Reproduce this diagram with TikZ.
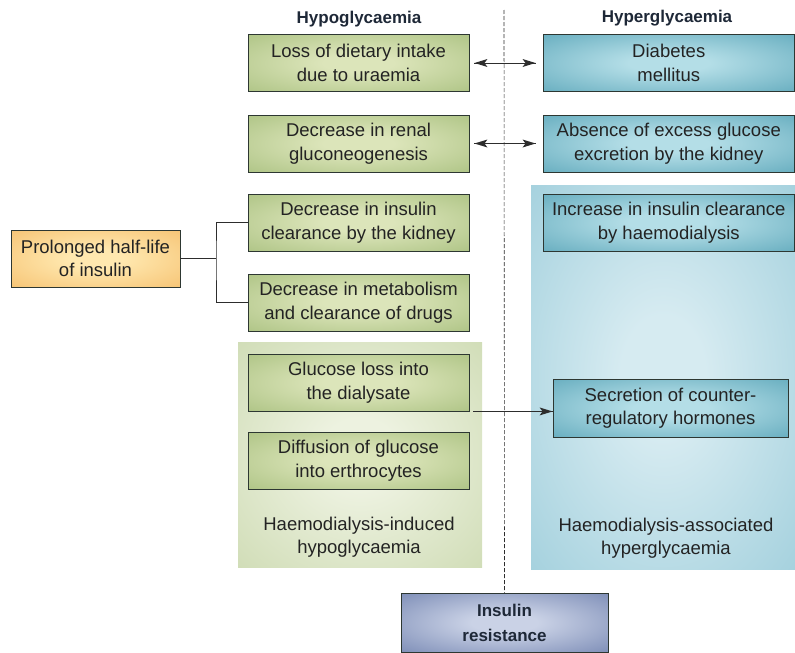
\documentclass[tikz,border=0pt]{standalone}
\usepackage{fontspec}
\setmainfont{Liberation Sans}
\usepackage{tikz}

\definecolor{txt}{RGB}{35,35,35}
\definecolor{head}{RGB}{30,40,55}
\definecolor{boxline}{RGB}{45,55,50}
\definecolor{linegray}{RGB}{45,45,45}
\definecolor{gbin}{RGB}{220,229,186}
\definecolor{gbout}{RGB}{152,180,108}
\definecolor{bbin}{RGB}{180,222,231}
\definecolor{bbout}{RGB}{66,150,172}
\definecolor{obin}{RGB}{255,232,175}
\definecolor{obout}{RGB}{242,178,88}
\definecolor{gpin}{RGB}{237,242,224}
\definecolor{gpout}{RGB}{194,210,162}
\definecolor{bpin}{RGB}{214,235,241}
\definecolor{bpout}{RGB}{140,196,212}
\definecolor{ibin}{RGB}{202,210,230}
\definecolor{ibout}{RGB}{88,108,160}

\colorlet{glowin}{white}
\colorlet{glowout}{gray}
\pgfdeclareradialshading[glowin,glowout]{softglow}{\pgfpointorigin}{color(0bp)=(glowin); color(8bp)=(glowin); color(50bp)=(glowout)}

\tikzset{
  glow/.style 2 args={/utils/exec={\colorlet{glowin}{#1}\colorlet{glowout}{#2}}, shade, shading=softglow},
  boxtext/.style={font=\fontsize{18.5}{23.5}\selectfont, text=txt, align=center},
  greenbox/.style={boxtext, draw=boxline, line width=0.9pt, minimum width=221pt, minimum height=57pt, glow={gbin}{gbout}},
  bluebox/.style={boxtext, draw=boxline, line width=0.9pt, minimum width=251.5pt, minimum height=57pt, glow={bbin}{bbout}},
  header/.style={font=\fontsize{17}{20}\selectfont\bfseries, text=head},
  arrowline/.style={draw=linegray, line width=0.9pt}
}

\begin{document}
\begin{tikzpicture}[x=1pt,y=1pt]
        \tikzstyle{every node}+=[inner sep=0pt]
        \useasboundingbox (0,0) rectangle (795,-653);
        % background panels
        \shade [glow={gpin}{gpout}] (238,-342) rectangle (482,-567);
        \shade [glow={bpin}{bpout}] (531,-185) rectangle (795,-569);
        \node [boxtext] (hypotxt) at (359,-537) {Haemodialysis-induced\\hypoglycaemia};
        \node [boxtext] (hypertxt) at (666,-538) {Haemodialysis-associated\\hyperglycaemia};
        % column headers
        \node [header] (hypo) at (359,-19) {Hypoglycaemia};
        \node [header] (hyper) at (667,-18) {Hyperglycaemia};
        % hypoglycaemia side
        \node [greenbox] (loss) at (358.5,-63) {Loss of dietary intake\\due to uraemia};
        \node [greenbox] (renal) at (358.5,-143.5) {Decrease in renal\\gluconeogenesis};
        \node [greenbox] (clear) at (358.5,-222.5) {Decrease in insulin\\clearance by the kidney};
        \node [greenbox] (drugs) at (358.5,-302.5) {Decrease in metabolism\\and clearance of drugs};
        \node [greenbox] (dialy) at (358.5,-382.5) {Glucose loss into\\the dialysate};
        \node [greenbox] (eryth) at (358.5,-460.5) {Diffusion of glucose\\into erthrocytes};
        \node [boxtext, draw=boxline, line width=0.9pt, minimum width=169pt, minimum height=57pt, glow={obin}{obout}] (half) at (95.5,-258.5) {Prolonged half-life\\of insulin};
        % hyperglycaemia side
        \node [bluebox] (diab) at (668.75,-63) {Diabetes\\mellitus};
        \node [bluebox] (excr) at (668.75,-143.5) {Absence of excess glucose\\excretion by the kidney};
        \node [bluebox] (hdcl) at (668.75,-222.5) {Increase in insulin clearance\\by haemodialysis};
        \node [bluebox, minimum width=235pt, minimum height=58pt] (horm) at (670.5,-408) {Secretion of counter-\\regulatory hormones};
        % bottom
        \node [boxtext, font=\fontsize{17}{25}\selectfont\bfseries, text=head, draw=boxline, line width=0.9pt, minimum width=207pt, minimum height=59pt, glow={ibin}{ibout}] (ins) at (504.5,-622.5) {Insulin\\resistance};
        % divider
        \draw [linegray, line width=0.6pt, dash pattern=on 4pt off 2pt] (504,-10) -- (ins.north);
        % connectors
        \coordinate (jn) at (216,-258.5);
        \draw [arrowline] (half.east) -- (jn);
        \draw [arrowline] (clear.west) -| (jn) |- (drugs.west);
        \coordinate (a1) at ([xshift=5pt]loss.east);
        \coordinate (b1) at ([xshift=-7pt]diab.west);
        \coordinate (a2) at ([xshift=5pt]renal.east);
        \coordinate (b2) at ([xshift=-7pt]excr.west);
        \coordinate (a3) at ([xshift=4pt]dialy.south east);
        \coordinate (b3) at (horm.west |- dialy.south east);
        \draw [arrowline] (a1) -- (b1);
        \fill [linegray] (a1) -- ++(13,4) -- ++(-3,-4) -- ++(3,-4) -- cycle;
        \fill [linegray] (b1) -- ++(-13,4) -- ++(3,-4) -- ++(-3,-4) -- cycle;
        \draw [arrowline] (a2) -- (b2);
        \fill [linegray] (a2) -- ++(13,4) -- ++(-3,-4) -- ++(3,-4) -- cycle;
        \fill [linegray] (b2) -- ++(-13,4) -- ++(3,-4) -- ++(-3,-4) -- cycle;
        \draw [arrowline] (a3) -- (b3);
        \fill [linegray] (b3) -- ++(-13,4) -- ++(3,-4) -- ++(-3,-4) -- cycle;
\end{tikzpicture}
\end{document}
